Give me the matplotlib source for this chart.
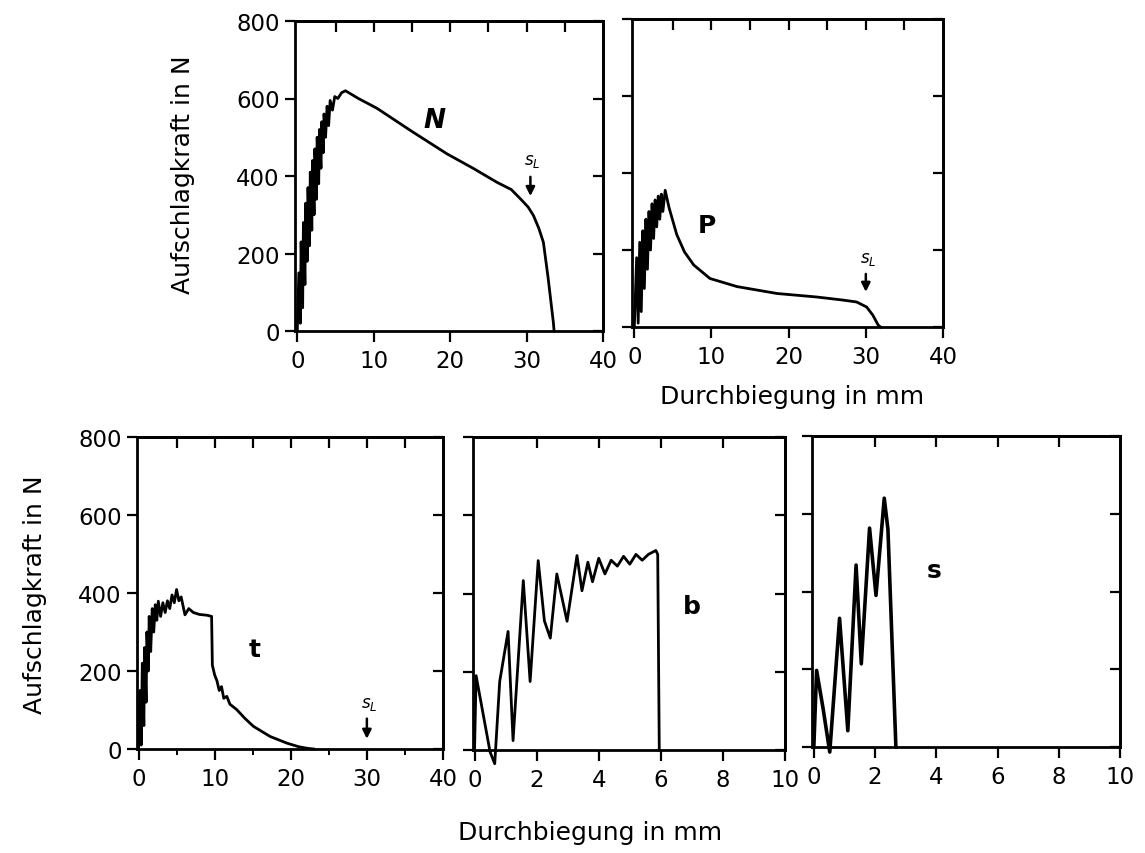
import matplotlib
matplotlib.use("Agg")
import matplotlib.pyplot as plt

# ---------------- data ----------------
N_x = [0.0, 0.2, 0.4, 0.5, 0.7, 0.8, 1.0, 1.1, 1.3, 1.4, 1.6, 1.7, 1.9, 2.0, 2.2, 2.3,
       2.5, 2.6, 2.8, 2.9, 3.1, 3.2, 3.4, 3.5, 3.7, 3.9, 4.1, 4.3, 4.6, 4.9, 5.3, 5.8,
       6.3, 8.0, 10.4, 15.0, 19.6, 23.0, 26.1, 28.0, 29.2, 30.2, 30.9, 31.6, 32.2, 32.8,
       33.5, 33.6]
N_y = [0, 150, 20, 230, 60, 280, 120, 330, 180, 370, 220, 410, 260, 440, 300, 470,
       340, 500, 380, 520, 420, 540, 460, 560, 500, 580, 530, 595, 570, 605, 600, 615,
       620, 600, 575, 515, 457, 420, 384, 365, 341, 320, 298, 265, 229, 140,
       23, 0]

P_x = [0.0, 0.3, 0.5, 0.7, 0.9, 1.1, 1.3, 1.5, 1.7, 1.9, 2.1, 2.3, 2.5, 2.7, 2.9, 3.1,
       3.3, 3.5, 3.7, 4.0, 4.5, 5.5, 6.5, 7.7, 9.8, 13.3, 18.5, 23.6, 27.0, 28.8, 30.1,
       30.9, 31.6, 31.9]
P_y = [0, 180, 10, 220, 40, 250, 100, 280, 150, 300, 200, 320, 230, 330, 260, 340,
       280, 345, 300, 355, 310, 240, 195, 161, 126, 105, 87, 78, 70, 65, 52,
       31, 5, 0]

t_x = [0.0, 0.2, 0.35, 0.5, 0.7, 0.8, 1.0, 1.1, 1.3, 1.4, 1.6, 1.8, 2.0, 2.2, 2.4, 2.6,
       2.9, 3.2, 3.5, 3.8, 4.1, 4.4, 4.7, 5.0, 5.3, 5.6, 6.1, 6.6, 7.2, 8.0, 9.0, 9.6,
       9.7, 10.0, 10.3, 10.6, 10.9, 11.2, 11.6, 12.0, 12.9, 14.0, 15.1, 17.3, 19.5, 21.0,
       22.1, 23.0]
t_y = [0, 150, 10, 220, 60, 260, 120, 300, 200, 340, 250, 360, 300, 370, 330, 379,
       340, 375, 350, 380, 360, 395, 375, 409, 380, 390, 344, 360, 350, 345, 343, 340,
       215, 190, 175, 150, 160, 130, 135, 115, 101, 78, 58, 32, 15, 6,
       2, 0]

b_x = [0.0, 0.05, 0.5, 0.65, 0.81, 1.08, 1.24, 1.57, 1.79, 2.05, 2.25, 2.44, 2.65, 2.98,
       3.3, 3.46, 3.65, 3.8, 4.0, 4.2, 4.4, 4.6, 4.8, 5.0, 5.2, 5.4, 5.6, 5.84, 5.9, 5.95]
b_y = [0, 190, -5, -35, 175, 303, 24, 433, 175, 484, 330, 286, 450, 329,
       497, 407, 480, 430, 490, 450, 485, 470, 495, 475, 500, 485, 500, 510, 500, 0]

s_x = [0.0, 0.09, 0.3, 0.52, 0.84, 1.11, 1.38, 1.55, 1.82, 2.03, 2.3, 2.42, 2.68]
s_y = [0, 197, 100, -13, 331, 42, 468, 214, 563, 390, 640, 560, 0]

y_ticks = [0, 200, 400, 600, 800]
x_ticks_wide = [0, 10, 20, 30, 40]
x_ticks_narrow = [0, 2, 4, 6, 8, 10]

xlabel_text = "Durchbiegung in mm"
ylabel_text = "Aufschlagkraft in N"

# ---------------- figure ----------------
W, H = 1145, 854
fig = plt.figure(figsize=(W / 100, H / 100), dpi=100)
plt.rcParams['font.family'] = ['DejaVu Sans']

def add_ax(l, r, t, b):
    return fig.add_axes([l / W, 1 - b / H, (r - l) / W, (b - t) / H])

LW = 2.0
FS = 16.5
LFS = 18

def style(ax, xlim, xmajor, xminor, topticks, ylabels):
    ax.set_xlim(*xlim)
    ax.set_ylim(0, 800)
    for sp in ax.spines.values():
        sp.set_linewidth(2.0)
    ax.set_yticks(y_ticks)
    ax.set_xticks(xmajor)
    if xminor:
        ax.set_xticks(xminor, minor=True)
    ax.tick_params(axis='y', which='both', left=True, right=False, direction='out',
                   length=7, width=1.6, labelsize=FS, pad=4, labelleft=ylabels)
    ax.tick_params(axis='x', which='major', bottom=True, top=False, direction='out',
                   length=8, width=1.6, labelsize=FS, pad=5)
    ax.tick_params(axis='x', which='minor', bottom=True, top=False, direction='out',
                   length=4, width=1.4)
    sy = ax.secondary_yaxis('right')
    sy.set_yticks(y_ticks)
    sy.tick_params(direction='in', length=7, width=1.6, labelright=False)
    sy.spines['right'].set_linewidth(2.0)
    sx = ax.secondary_xaxis('top')
    sx.set_xticks(topticks)
    sx.tick_params(direction='in', length=8, width=1.6, labeltop=False)
    sx.spines['top'].set_linewidth(2.0)

def sl_mark(ax, x, ytext, ytop, ybot):
    ax.text(x + 0.3, ytext, r'$s_L$', fontsize=12, ha='center', va='center')
    ax.annotate('', xy=(x, ybot), xytext=(x, ytop),
                arrowprops=dict(arrowstyle='-|>', color='black', lw=1.8,
                                mutation_scale=13))

# Panel N
ax1 = add_ax(295, 603, 22, 332)
ax1.plot(N_x, N_y, color='black', lw=LW, clip_on=False)
style(ax1, (-0.3, 40), x_ticks_wide, None, [5, 10, 15, 20, 25, 30, 35], True)
ax1.text(18, 545, 'N', fontsize=19, fontweight='bold', style='italic',
         ha='center', va='center')
sl_mark(ax1, 30.5, 440, 405, 341)

# Panel P
ax2 = add_ax(632, 943, 20, 328)
ax2.plot(P_x, P_y, color='black', lw=LW, clip_on=False)
style(ax2, (-0.3, 40), x_ticks_wide, None, [5, 10, 15, 20, 25, 30, 35], False)
ax2.text(9.4, 266, 'P', fontsize=18, fontweight='bold', ha='center', va='center')
sl_mark(ax2, 30.0, 178, 145, 84)

# Panel t
ax3 = add_ax(137, 443, 438, 750)
ax3.plot(t_x, t_y, color='black', lw=LW, clip_on=False)
style(ax3, (-0.2, 40), x_ticks_wide, [5, 15, 25, 35], [5, 10, 15, 20, 25, 30, 35], True)
ax3.text(15.3, 257, 't', fontsize=18, fontweight='bold', ha='center', va='center')
sl_mark(ax3, 30.0, 118, 85, 19)

# Panel b
ax4 = add_ax(473, 785, 438, 751)
ax4.plot(b_x, b_y, color='black', lw=LW, clip_on=False)
style(ax4, (-0.05, 10), x_ticks_narrow, None, [2, 4, 6, 8], False)
ax4.text(7.0, 368, 'b', fontsize=18, fontweight='bold', ha='center', va='center')

# Panel s
ax5 = add_ax(812, 1120, 437, 748)
ax5.plot(s_x, s_y, color='black', lw=2.6, clip_on=False)
style(ax5, (-0.06, 10), x_ticks_narrow, None, [2, 4, 6, 8], False)
ax5.text(3.93, 455, 's', fontsize=18, fontweight='bold', ha='center', va='center')

# axis titles
fig.text(792 / W, 1 - 397 / H, xlabel_text, fontsize=LFS, ha='center', va='center')
fig.text(590 / W, 1 - 833 / H, xlabel_text, fontsize=LFS, ha='center', va='center')
fig.text(183 / W, 1 - 175 / H, ylabel_text, fontsize=LFS, ha='center', va='center',
         rotation=90)
fig.text(35 / W, 1 - 595 / H, ylabel_text, fontsize=LFS, ha='center', va='center',
         rotation=90)

fig.savefig('out.png', dpi=100, facecolor='white')
